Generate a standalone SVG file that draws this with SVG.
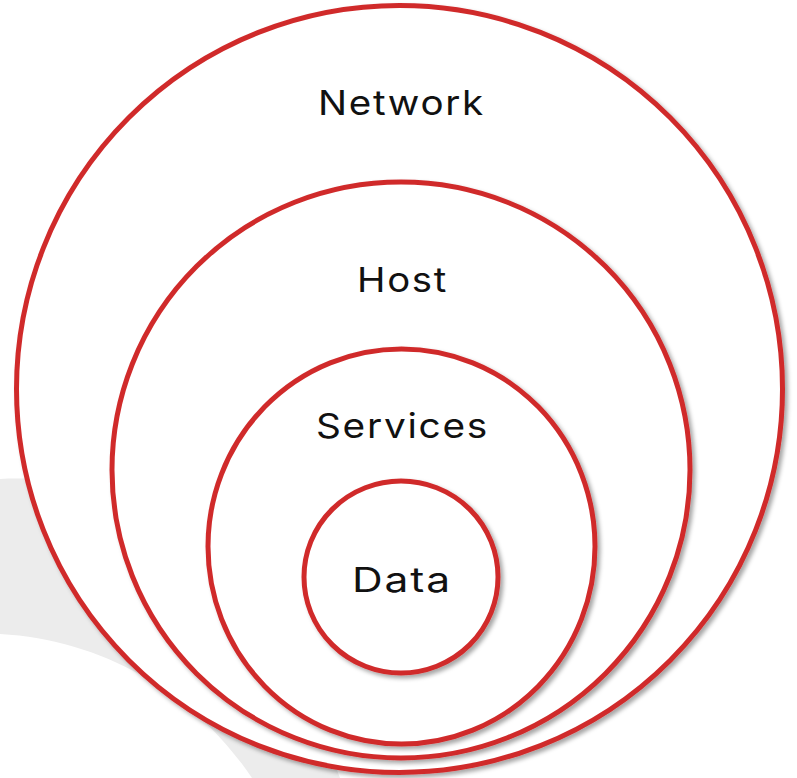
<svg xmlns="http://www.w3.org/2000/svg" width="797" height="778" viewBox="0 0 797 778">
<defs>
<filter id="sh" x="-10%" y="-10%" width="120%" height="120%">
<feDropShadow dx="3" dy="3" stdDeviation="2" flood-color="#000" flood-opacity="0.35"/>
</filter>
<style>
.ring{fill:#fff;stroke:#d02b2c;stroke-width:5;filter:url(#sh)}
.lbl{font-family:Inter,"Liberation Sans",sans-serif;font-size:34px;font-weight:400;letter-spacing:1.5px;fill:#111;text-anchor:middle}
</style>
</defs>
<rect width="797" height="778" fill="#fff"/>
<path d="M0 479 C 150 472 260 560 340 778 L 252 778 C 200 700 110 640 0 634 Z" fill="#ececec"/>
<g id="network"><ellipse class="ring" cx="399.5" cy="389" rx="383" ry="383.5"/><text class="lbl" x="401.5" y="115" textLength="167" lengthAdjust="spacingAndGlyphs">Network</text></g>
<g id="host"><ellipse class="ring" cx="401" cy="470" rx="289" ry="288"/><text class="lbl" x="402.5" y="292" textLength="91" lengthAdjust="spacingAndGlyphs">Host</text></g>
<g id="services"><ellipse class="ring" cx="401.5" cy="546.5" rx="193.5" ry="197.5"/><text class="lbl" x="402.5" y="438" textLength="173" lengthAdjust="spacingAndGlyphs">Services</text></g>
<g id="data"><ellipse class="ring" cx="401" cy="577" rx="97" ry="96"/><text class="lbl" x="402" y="592" textLength="100" lengthAdjust="spacingAndGlyphs">Data</text></g>
<g id="connectors"/>
</svg>
